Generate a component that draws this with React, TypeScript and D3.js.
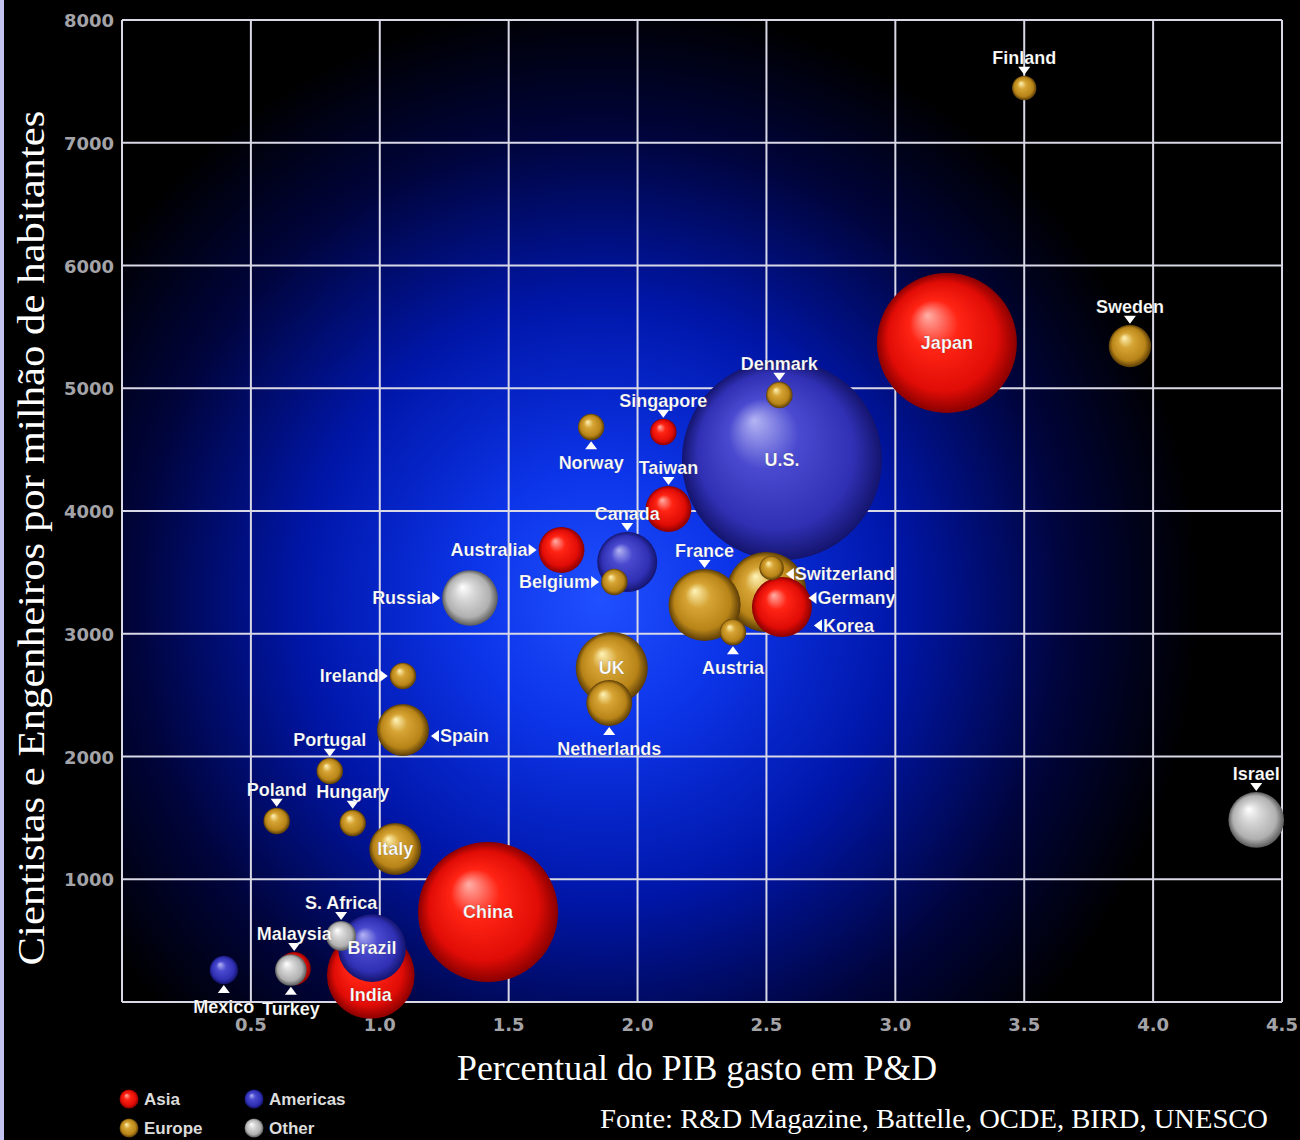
import * as d3 from "d3";

// P&D: % do PIB (x), cientistas por milhão (y), gasto em US$ bi (tamanho)
const countries = [
  "U.S.", "Japan", "China", "India", "Germany", "France", "UK", "Brazil",
  "Korea", "Canada", "Russia", "Israel", "Italy", "Spain", "Taiwan",
  "Australia", "Netherlands", "Sweden", "Turkey", "Malaysia", "S. Africa",
  "Mexico", "Denmark", "Norway", "Singapore", "Belgium", "Ireland",
  "Portugal", "Poland", "Hungary", "Austria", "Finland", "Switzerland",
];
const regions = [
  "Americas", "Asia", "Asia", "Asia", "Europe", "Europe", "Europe", "Americas",
  "Asia", "Americas", "Other", "Other", "Europe", "Europe", "Asia",
  "Asia", "Europe", "Europe", "Other", "Asia", "Other",
  "Americas", "Europe", "Europe", "Asia", "Europe", "Europe",
  "Europe", "Europe", "Europe", "Europe", "Europe", "Europe",
];
const rdShare = [
  2.56, 3.2, 1.42, 0.965, 2.5, 2.26, 1.9, 0.97,
  2.56, 1.96, 1.35, 4.4, 1.06, 1.09, 2.12,
  1.705, 1.89, 3.91, 0.655, 0.668, 0.85,
  0.395, 2.55, 1.82, 2.1, 1.91, 1.09,
  0.806, 0.6, 0.895, 2.37, 3.5, 2.52,
];
const researchers = [
  4415, 5369, 733, 220, 3340, 3234, 2721, 440,
  3218, 3585, 3291, 1483, 1246, 2216, 4016,
  3682, 2436, 5344, 261, 272, 538,
  261, 4945, 4684, 4644, 3422, 2656,
  1882, 1475, 1458, 3014, 7446, 3536,
];
const spending = [
  400, 196, 196, 77, 64, 52, 52, 46,
  36, 36, 31, 31, 27, 27, 21,
  21, 21, 18, 10, 11, 9,
  8, 7, 7, 7, 7, 7,
  7, 7, 7, 7, 6, 6,
];
const labelSide = [
  "inside", "inside", "inside", "insideLow", "right", "above", "inside", "inside",
  "rightLow", "above", "left", "above", "inside", "right", "above",
  "left", "below", "above", "below", "above", "above",
  "below", "above", "below", "above", "left", "left",
  "above", "above", "above", "below", "above", "right",
];

const legendRegions = ["Asia", "Europe", "Americas", "Other"];
const xTicks = [0.5, 1.0, 1.5, 2.0, 2.5, 3.0, 3.5, 4.0, 4.5];
const yTicks = [1000, 2000, 3000, 4000, 5000, 6000, 7000, 8000];

const W = 1300;
const H = 1140;

const sphereColors: Record<string, [string, string, string, string]> = {
  Asia: ["#ffb0a8", "#ff2414", "#e00c06", "#8a0000"],
  Americas: ["#b4b4f4", "#4a4ad0", "#3030b4", "#14146e"],
  Europe: ["#fff4b8", "#d6a434", "#b88418", "#5a3c06"],
  Other: ["#ffffff", "#d6d6d6", "#b0b0b0", "#5a5a5a"],
};

export default function App() {
  const x = d3.scaleLinear().domain([0, 4.5]).range([122, 1282]);
  const y = d3.scaleLinear().domain([0, 8000]).range([1002, 20]);
  const r = d3.scaleSqrt().domain([0, 400]).range([0, 100]);

  const points = countries
    .map((name, i) => ({
      name,
      region: regions[i],
      cx: x(rdShare[i]),
      cy: y(researchers[i]),
      rad: r(spending[i]),
      side: labelSide[i],
    }))
    .sort((a, b) => b.rad - a.rad);

  const [x0, x1] = x.range();
  const [y0, y1] = [y(8000), y(0)];

  const labelFont = "'Liberation Sans', Arial, sans-serif";
  const serif = "'Liberation Serif', 'Times New Roman', serif";

  const renderLabel = (p: (typeof points)[number]) => {
    const { cx, cy, rad, side, name } = p;
    const tri = 6;
    let triPath = "";
    let tx = cx;
    let ty = cy;
    let anchor: "start" | "middle" | "end" = "middle";
    if (side === "above") {
      const tip = cy - rad - 1;
      triPath = `M${cx},${tip} L${cx - tri},${tip - 8} L${cx + tri},${tip - 8} Z`;
      ty = tip - 11;
    } else if (side === "below") {
      const tip = cy + rad + 1;
      triPath = `M${cx},${tip} L${cx - tri},${tip + 8} L${cx + tri},${tip + 8} Z`;
      ty = tip + 28;
    } else if (side === "right" || side === "rightLow") {
      const mid = side === "rightLow" ? cy + rad * 0.62 : cy + 6;
      const tip = cx + rad + 2;
      triPath = `M${tip},${mid} L${tip + 8},${mid - tri} L${tip + 8},${mid + tri} Z`;
      tx = tip + 9;
      ty = mid + 6;
      anchor = "start";
    } else if (side === "left") {
      const tip = cx - rad - 2;
      triPath = `M${tip},${cy} L${tip - 8},${cy - tri} L${tip - 8},${cy + tri} Z`;
      tx = tip - 9;
      ty = cy + 6;
      anchor = "end";
    } else if (side === "insideLow") {
      ty = cy + rad * 0.45 + 6;
    } else {
      ty = cy + 6;
    }
    return (
      <g key={`l-${name}`}>
        {triPath && <path d={triPath} fill="#ffffff" />}
        <text
          x={tx}
          y={ty}
          textAnchor={anchor}
          fontFamily={labelFont}
          fontWeight="bold"
          fontSize={18}
          fill="#ffffff"
          stroke="#000"
          strokeOpacity={0.25}
          strokeWidth={0.6}
        >
          {name}
        </text>
      </g>
    );
  };

  return (
    <svg
      width={W}
      height={H}
      style={{ position: "absolute", left: 0, top: 0, display: "block" }}
    >
      <defs>
        <radialGradient
          id="bg"
          gradientUnits="userSpaceOnUse"
          cx={600}
          cy={600}
          r={600}
        >
          <stop offset="0" stopColor="#2050ff" />
          <stop offset="0.22" stopColor="#0c34e8" />
          <stop offset="0.5" stopColor="#0016a8" />
          <stop offset="0.78" stopColor="#00043a" />
          <stop offset="1" stopColor="#000000" />
        </radialGradient>
        {Object.entries(sphereColors).map(([k, c]) => (
          <radialGradient key={k} id={`sph-${k}`} cx="0.5" cy="0.5" r="0.5" fx="0.36" fy="0.3">
            <stop offset="0" stopColor={c[0]} />
            <stop offset="0.35" stopColor={c[1]} />
            <stop offset="0.78" stopColor={c[2]} />
            <stop offset="1" stopColor={c[3]} />
          </radialGradient>
        ))}
      </defs>

      <rect width={W} height={H} fill="#000" />
      <rect x={0} y={0} width={4} height={H} fill="#c4c4f0" />
      <rect x={x0} y={y0} width={x1 - x0} height={y1 - y0} fill="url(#bg)" />

      {/* grade */}
      <g stroke="#d8d8e6" strokeWidth={2}>
        {xTicks.map((t) => (
          <line key={`gx${t}`} x1={x(t)} x2={x(t)} y1={y0} y2={y1} />
        ))}
        {yTicks.map((t) => (
          <line key={`gy${t}`} x1={x0} x2={x1} y1={y(t)} y2={y(t)} />
        ))}
        <line x1={x0} x2={x0} y1={y0} y2={y1} />
        <line x1={x0} x2={x1} y1={y1} y2={y1} />
      </g>

      {/* rótulos dos eixos */}
      <g
        fontFamily="'DejaVu Sans', sans-serif"
        fontWeight="bold"
        fontSize={18}
        fill="#a4a4a8"
      >
        {yTicks.map((t) => (
          <text key={`ty${t}`} x={114} y={y(t) + 7} textAnchor="end">
            {t}
          </text>
        ))}
        {xTicks.map((t) => (
          <text key={`tx${t}`} x={x(t)} y={1031} textAnchor="middle">
            {t.toFixed(1)}
          </text>
        ))}
      </g>

      {/* bolhas */}
      <g>
        {points.map((p) => (
          <circle
            key={p.name}
            cx={p.cx}
            cy={p.cy}
            r={p.rad}
            fill={`url(#sph-${p.region})`}
          />
        ))}
      </g>

      <g>{points.map(renderLabel)}</g>

      <text
        transform="translate(44,538) rotate(-90)"
        textAnchor="middle"
        fontFamily={serif}
        fontSize={38}
        textLength={855}
        lengthAdjust="spacingAndGlyphs"
        fill="#ffffff"
      >
        Cientistas e Engenheiros por milhão de habitantes
      </text>
      <text
        x={697}
        y={1080}
        textAnchor="middle"
        fontFamily={serif}
        fontSize={35}
        textLength={480}
        lengthAdjust="spacingAndGlyphs"
        fill="#ffffff"
      >
        Percentual do PIB gasto em P&amp;D
      </text>
      <text
        x={1268}
        y={1128}
        textAnchor="end"
        fontFamily={serif}
        fontSize={28}
        textLength={668}
        lengthAdjust="spacingAndGlyphs"
        fill="#ffffff"
      >
        Fonte: R&amp;D Magazine, Battelle, OCDE, BIRD, UNESCO
      </text>

      {/* legenda */}
      <g>
        {legendRegions.map((reg, i) => {
          const lx = i < 2 ? 129 : 254;
          const ly = i % 2 === 0 ? 1099 : 1128;
          return (
            <g key={reg}>
              <circle cx={lx} cy={ly} r={9.5} fill={`url(#sph-${reg})`} />
              <text
                x={lx + 15}
                y={ly + 6}
                fontFamily={labelFont}
                fontWeight="bold"
                fontSize={17}
                fill="#dcdcdc"
              >
                {reg}
              </text>
            </g>
          );
        })}
      </g>
    </svg>
  );
}
